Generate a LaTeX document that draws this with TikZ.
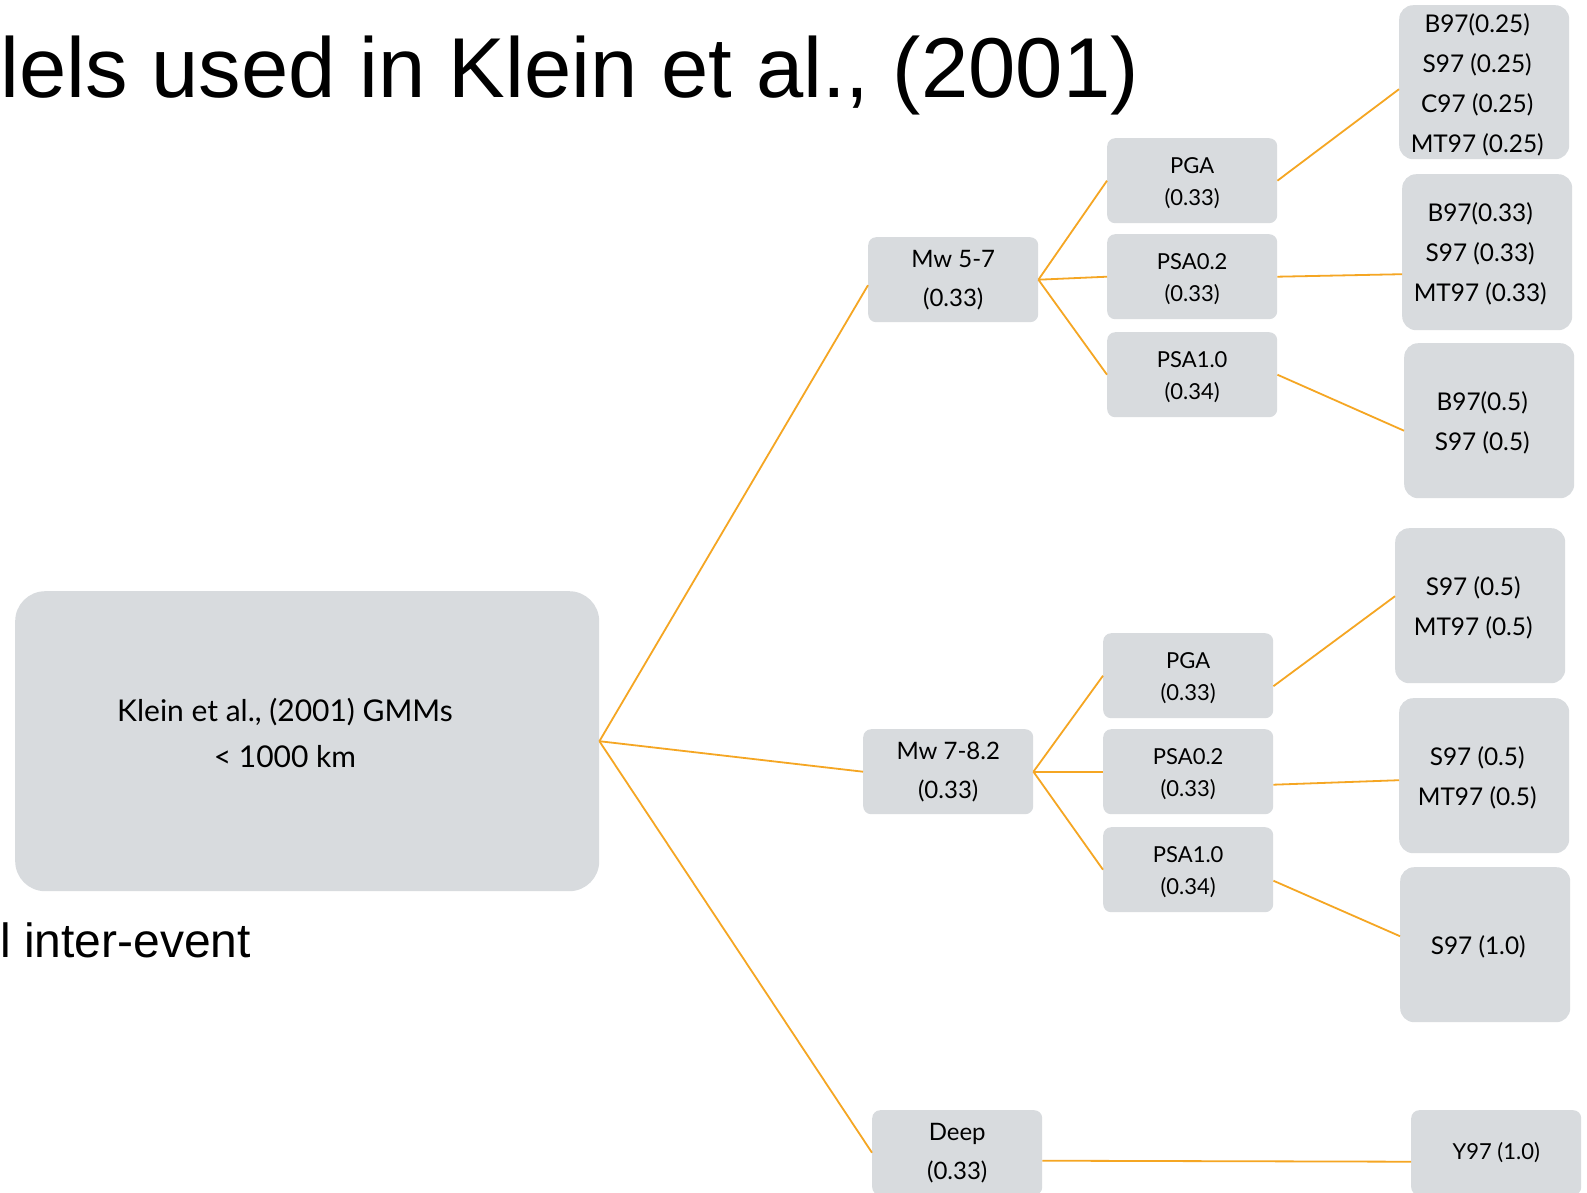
\documentclass[tikz,border=0pt]{standalone}
\usepackage{fontspec}
\setmainfont{Lato}
\newfontfamily\titlefont{Liberation Sans}
\usetikzlibrary{calc}
\definecolor{boxgray}{RGB}{216,219,222}
\definecolor{linkorange}{RGB}{245,166,35}
\begin{document}
\begin{tikzpicture}[x=1pt,y=-1pt,
  gbox/.style={fill=boxgray, draw=none, align=center, inner sep=0pt, anchor=north west, text=black},
  smallbox/.style={gbox, rounded corners=8pt, minimum width=170pt, minimum height=85pt},
  midbox/.style={gbox, rounded corners=8pt, minimum width=170pt, minimum height=85pt, font=\fontsize{24}{39}\selectfont},
  rightbox/.style={gbox, rounded corners=14pt, minimum width=170pt, minimum height=155pt},
  stext/.style={align=center, inner sep=0pt, font=\fontsize{22}{32}\selectfont},
  rtext/.style={align=center, inner sep=0pt, font=\fontsize{24.4}{40}\selectfont},
  link/.style={draw=linkorange, line width=1.8pt},
  titletext/.style={anchor=base west, inner sep=0pt, font=\titlefont\fontsize{85}{100}\selectfont}
]
\useasboundingbox (0,0) rectangle (1587,1192);
\fill[white] (0,0) rectangle (1587,1192);

% titles
\node[titletext] (title) at (0,97) {lels used in Klein et al., (2001)};
\node[titletext, font=\titlefont\fontsize{48}{56}\selectfont] (sub) at (0,957) {l inter-event};

% root
\node[gbox, rounded corners=30pt, minimum width=584pt, minimum height=300pt] (root) at (15,591) {};
\node[align=center, inner sep=0pt, font=\fontsize{30}{45.5}\selectfont] (roottext) at (285,733) {Klein et al., (2001) GMMs\\< 1000 km};

% upper branch
\node[midbox] (mwA) at (868,237) {Mw 5-7\\(0.33)};
\node[smallbox] (pgaA) at (1107,138) {};
\node[stext] (pgaAt) at ($(pgaA.center)+(0,2.5)$) {PGA\\(0.33)};
\node[smallbox] (psa2A) at (1107,234) {};
\node[stext] (psa2At) at ($(psa2A.center)+(0,2.5)$) {PSA0.2\\(0.33)};
\node[smallbox] (psa1A) at (1107,332) {};
\node[stext] (psa1At) at ($(psa1A.center)+(0,2.5)$) {PSA1.0\\(0.34)};
\node[rightbox, minimum height=154pt] (r1) at (1399,5) {};
\node[rtext] (r1t) at ($(r1.center)+(-7,2.5)$) {B97(0.25)\\S97 (0.25)\\C97 (0.25)\\MT97 (0.25)};
\node[rightbox, minimum height=156pt] (r2) at (1402,174) {};
\node[rtext] (r2t) at ($(r2.center)+(-7,2)$) {B97(0.33)\\S97 (0.33)\\MT97 (0.33)};
\node[rightbox] (r3) at (1404,343) {};
\node[rtext] (r3t) at ($(r3.center)+(-7,2)$) {B97(0.5)\\S97 (0.5)};

% middle branch
\node[midbox] (mwB) at (863,729) {Mw 7-8.2\\(0.33)};
\node[smallbox] (pgaB) at (1103,633) {};
\node[stext] (pgaBt) at ($(pgaB.center)+(0,2.5)$) {PGA\\(0.33)};
\node[smallbox] (psa2B) at (1103,729) {};
\node[stext] (psa2Bt) at ($(psa2B.center)+(0,2.5)$) {PSA0.2\\(0.33)};
\node[smallbox] (psa1B) at (1103,827) {};
\node[stext] (psa1Bt) at ($(psa1B.center)+(0,2.5)$) {PSA1.0\\(0.34)};
\node[rightbox] (r4) at (1395,528) {};
\node[rtext] (r4t) at ($(r4.center)+(-7,2)$) {S97 (0.5)\\MT97 (0.5)};
\node[rightbox] (r5) at (1399,698) {};
\node[rtext] (r5t) at ($(r5.center)+(-7,2)$) {S97 (0.5)\\MT97 (0.5)};
\node[rightbox] (r6) at (1400,867) {};
\node[rtext] (r6t) at ($(r6.center)+(-7,2)$) {S97 (1.0)};

% lower branch
\node[midbox] (deep) at (872,1110) {Deep\\(0.33)};
\node[rightbox, minimum height=85pt, rounded corners=8pt, font=\fontsize{22}{32}\selectfont] (y97) at (1411,1110) {Y97 (1.0)};

% connectors
\draw[link] (root.east) -- ($(mwA.west)+(0,5.5)$);
\draw[link] (root.east) -- (mwB.west);
\draw[link] (root.east) -- (deep.west);
\draw[link] (mwA.east) -- (pgaA.west);
\draw[link] (mwA.east) -- (psa2A.west);
\draw[link] (mwA.east) -- (psa1A.west);
\draw[link] (pgaA.east) -- ($(r1.west)+(0,7)$);
\draw[link] (psa2A.east) -- ($(r2.west)+(0,22)$);
\draw[link] (psa1A.east) -- ($(r3.west)+(0,10)$);
\draw[link] (mwB.east) -- (pgaB.west);
\draw[link] (mwB.east) -- (psa2B.west);
\draw[link] (mwB.east) -- (psa1B.west);
\draw[link] ($(pgaB.east)+(0,10.5)$) -- ($(r4.west)+(0,-9.5)$);
\draw[link] ($(psa2B.east)+(0,13)$) -- ($(r5.west)+(0,4.5)$);
\draw[link] ($(psa1B.east)+(0,11)$) -- ($(r6.west)+(0,-8.5)$);
\draw[link] ($(deep.east)+(0,8)$) -- ($(y97.west)+(0,9)$);
\end{tikzpicture}
\end{document}
